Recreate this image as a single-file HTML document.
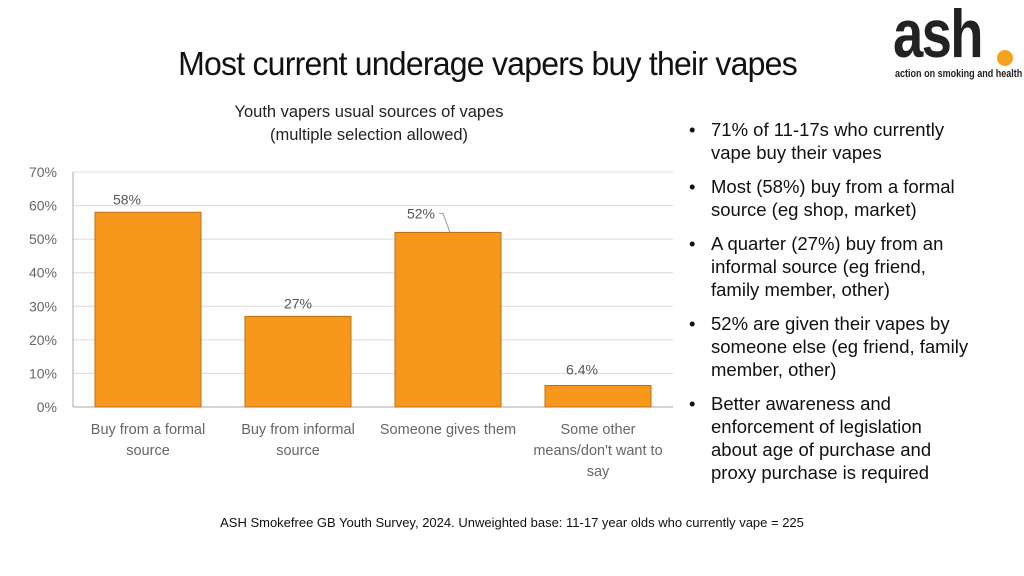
<!DOCTYPE html>
<html><head><meta charset="utf-8"><style>
body{margin:0;width:1024px;height:576px;background:#fff;position:relative;overflow:hidden;font-family:"Liberation Sans",sans-serif}
.t{position:absolute}
h1{position:absolute;left:0;width:975px;top:45px;margin:0;text-align:center;font-family:"Liberation Sans",sans-serif;font-weight:normal;font-size:33px;color:#111;letter-spacing:-0.8px;transform:scaleX(0.97)}
ul{position:absolute;left:686px;top:118px;margin:0;padding:0;list-style:none;font-size:18.5px;line-height:23px;color:#111;width:330px;white-space:nowrap}
li{position:relative;padding-left:25px;margin-bottom:11px}
li:before{content:"•";position:absolute;left:3px}
</style></head><body>
<h1>Most current underage vapers buy their vapes</h1>
<div class="t" style="left:893px;top:6px;width:126px;height:76px">
<div class="t" style="left:0;top:-6px;font-size:68px;line-height:68px;font-weight:bold;color:#222;letter-spacing:-2px;transform:scaleX(0.8);transform-origin:left">ash</div>
<div class="t" style="left:104px;top:44px;width:16px;height:16px;border-radius:50%;background:#f5a31c"></div>
<div class="t" style="left:2px;top:62px;font-size:11px;font-weight:bold;color:#222;white-space:nowrap;transform:scaleX(0.82);transform-origin:left">action on smoking and health</div>
</div>
<svg class="t" style="left:0;top:0" width="1024" height="576">
<text x="369" y="117" text-anchor="middle" font-size="16.5" fill="#222">Youth vapers usual sources of vapes</text>
<text x="369" y="140" text-anchor="middle" font-size="16.5" fill="#222">(multiple selection allowed)</text>
<g id="g"></g>
<text x="512" y="527" text-anchor="middle" font-size="13" fill="#111">ASH Smokefree GB  Youth Survey, 2024. Unweighted base: 11-17 year olds who currently vape = 225</text>
</svg>
<ul>
<li>71% of 11-17s who currently<br>vape buy their vapes</li>
<li>Most (58%) buy from a formal<br>source (eg shop, market)</li>
<li>A quarter (27%) buy from an<br>informal source (eg friend,<br>family member, other)</li>
<li>52% are given their vapes by<br>someone else (eg friend, family<br>member, other)</li>
<li>Better awareness and<br>enforcement of legislation<br>about age of purchase and<br>proxy purchase is required</li>
</ul>
<script>
const categories=[["Buy from a formal","source"],["Buy from informal","source"],["Someone gives them"],["Some other","means/don't want to","say"]];
const values=[58,27,52,6.4];
const valueLabels=["58%","27%","52%","6.4%"];
const ticks=[0,10,20,30,40,50,60,70];
const NS="http://www.w3.org/2000/svg",g=document.getElementById('g');
const y0=407,yTop=172,max=70,x0=73,bw=150;
const y=v=>y0-(v/max)*(y0-yTop);
const x=i=>x0+i*bw;
function mk(t,a,txt){const e=document.createElementNS(NS,t);for(const k in a)e.setAttribute(k,a[k]);if(txt!=null)e.textContent=txt;g.appendChild(e);return e;}
ticks.forEach(t=>{
const l=mk('line',{x1:x0,x2:673,y1:y(t),y2:y(t),stroke:t?'#dcdcdc':'#aaa','stroke-width':1});


const tx=mk('text',{x:57,y:y(t)+5,'text-anchor':'end','font-size':14,fill:'#666'},t+'%');


});
const ax=mk('line',{x1:x0,x2:x0,y1:yTop,y2:y0,stroke:'#aaa'});


values.forEach((v,i)=>{
const bx=x(i)+22;
const r=mk('rect',{x:bx,y:y(v),width:106,height:y0-y(v),fill:'#f7981d',stroke:'#b8701a','stroke-width':1});


let lx=bx+53,ly=y(v)-8;
if(i==0){lx=bx+32;ly=y(v)-8;}
if(i==2){lx=bx+26;ly=y(v)-14;
const ll=mk('path',{d:`M${bx+44} ${ly-5} L${bx+48} ${ly-5} L${bx+55} ${y(v)}`,fill:'none',stroke:'#999'});

}
if(i==3){lx=bx+37;ly=y(v)-11;}
const lt=mk('text',{x:lx,y:ly,'text-anchor':'middle','font-size':14,fill:'#555'},valueLabels[i]);


categories[i].forEach((s,j)=>{
const c=mk('text',{x:x(i)+75,y:434+j*21,'text-anchor':'middle','font-size':14.5,fill:'#666'},s);


});
});
</script>
</body></html>
